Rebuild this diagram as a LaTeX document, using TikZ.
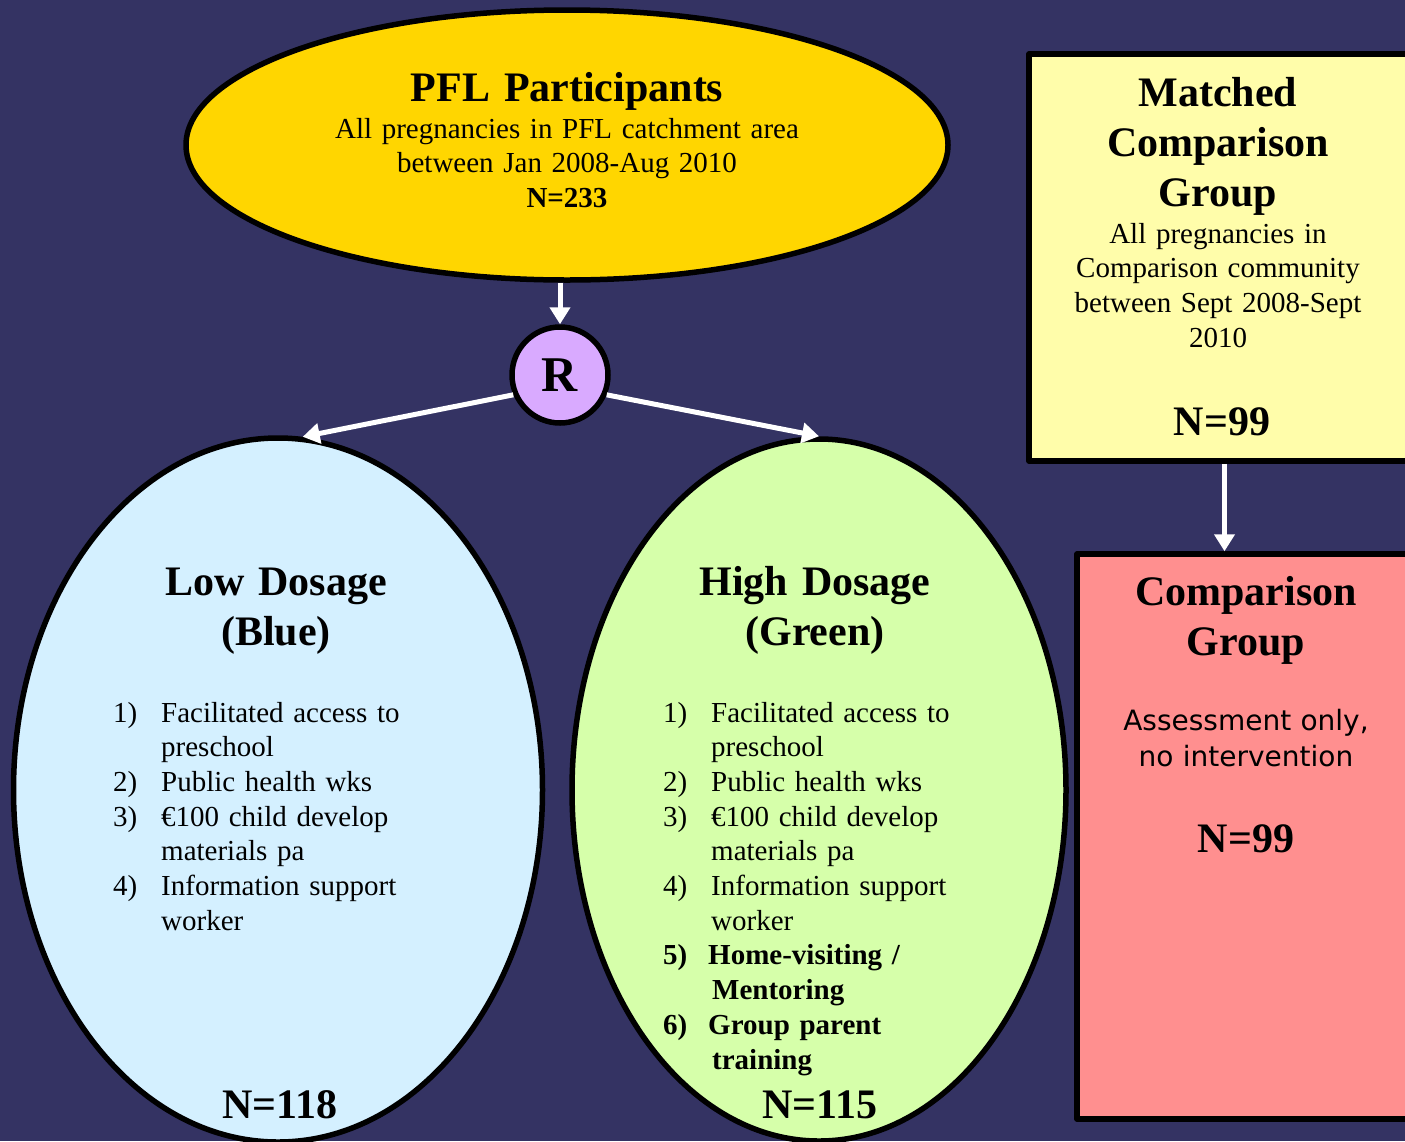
\documentclass[tikz,border=0pt]{standalone}
\usepackage{fontspec}
\setmainfont{Liberation Serif}
\newfontfamily\verdanafont{DejaVu Sans}
\usetikzlibrary{arrows.meta}
\usetikzlibrary{shapes.geometric}
\usetikzlibrary{positioning}

\definecolor{navy}{RGB}{52,51,99}
\definecolor{gold}{RGB}{255,214,0}
\definecolor{lavender}{RGB}{217,170,255}
\definecolor{paleblue}{RGB}{212,240,255}
\definecolor{palegreen}{RGB}{214,255,170}
\definecolor{paleyellow}{RGB}{255,253,170}
\definecolor{salmon}{RGB}{255,143,143}

\newcommand{\itm}[2]{\makebox[48pt][l]{#1}#2}
\newcommand{\cnt}{\hspace*{48pt}}

\begin{document}
\begin{tikzpicture}[line join=round,x=1pt,y=-1pt,
  blob/.style={ellipse,draw=black,line width=5.5pt,inner sep=0pt},
  box/.style={rectangle,draw=black,line width=5.5pt,inner sep=0pt},
  arr/.style={draw=white,line width=5pt,-{Triangle[width=20pt,length=17pt]}},
  ttl/.style={font=\fontsize{42}{50}\selectfont\bfseries,text width=600pt,align=center,anchor=base,inner sep=0pt},
  txt/.style={font=\fontsize{29}{34.7}\selectfont,text width=600pt,align=center,anchor=base,inner sep=0pt},
  lst/.style={font=\fontsize{29}{34.7}\selectfont,text width=400pt,align=left,anchor=base west,inner sep=0pt}]
\path[use as bounding box] (0,0) rectangle (1405,1141);
\fill[navy] (0,0) rectangle (1405,1141);
\clip (0,0) rectangle (1405,1141);
% shapes
\node[blob,fill=gold,minimum width=762pt,minimum height=270pt] (pfl) at (567,145) {};
\node[circle,draw=black,line width=5.5pt,fill=lavender,minimum size=96pt,inner sep=0pt,
  font=\fontsize{50}{54}\selectfont\bfseries] (rand) at (560,375) {R};
\node[blob,fill=paleblue,minimum width=529pt,minimum height=704pt] (low) at (278,790) {};
\node[blob,fill=palegreen,minimum width=494pt,minimum height=702pt] (high) at (819,790) {};
\node[box,fill=paleyellow,minimum width=391pt,minimum height=407pt] (match) at (1224.5,257.5) {};
\node[box,fill=salmon,minimum width=343pt,minimum height=565pt] (comp) at (1248.5,836.5) {};
% connectors
\draw[arr] (pfl.south -| rand) -- (rand.north);
\draw[arr] (rand.203) -- (low.86);
\draw[arr] (rand.337) -- (high.north);
\draw[arr] (match.south) -- (match.south |- comp.north);
% texts
\node[ttl] (pfltitle) at (567,101) {PFL Participants};
\node[txt] (pflbody) at (567,138) {All pregnancies in PFL catchment area\\
  between Jan 2008-Aug 2010\\ \textbf{N=233}};
\node[ttl] (lowtitle) at (276,595) {Low Dosage\\ (Blue)};
\node[lst] (lowlist) at (113,722) {\itm{1)}{Facilitated access to}\\ \cnt preschool\\
  \itm{2)}{Public health wks}\\ \itm{3)}{€100 child develop}\\ \cnt materials pa\\
  \itm{4)}{Information support}\\ \cnt worker};
\node[ttl] (lown) at (280,1118) {N=118};
\node[ttl] (hightitle) at (815,595) {High Dosage\\ (Green)};
\node[lst] (highlist) at (663,722) {\itm{1)}{Facilitated access to}\\ \cnt preschool\\
  \itm{2)}{Public health wks}\\ \itm{3)}{€100 child develop}\\ \cnt materials pa\\
  \itm{4)}{Information support}\\ \cnt worker\\
  \textbf{\makebox[45pt][l]{5)}Home-visiting /}\\ \hspace*{49pt}\textbf{Mentoring}\\
  \textbf{\makebox[45pt][l]{6)}Group parent}\\ \hspace*{49pt}\textbf{training}};
\node[ttl] (highn) at (820,1118) {N=115};
\node[ttl] (matchtitle) at (1218,106) {Matched\\ Comparison\\ Group};
\node[txt] (matchbody) at (1218,243) {All pregnancies in\\ Comparison community\\
  between Sept 2008-Sept\\ 2010};
\node[ttl] (matchn) at (1222,435) {N=99};
\node[ttl] (comptitle) at (1246,605) {Comparison\\ Group};
\node[txt,font=\verdanafont\fontsize{28}{36}\selectfont] (compbody) at (1246,730)
  {Assessment only,\\ no intervention};
\node[ttl] (compn) at (1246,852) {N=99};
\end{tikzpicture}
\end{document}
